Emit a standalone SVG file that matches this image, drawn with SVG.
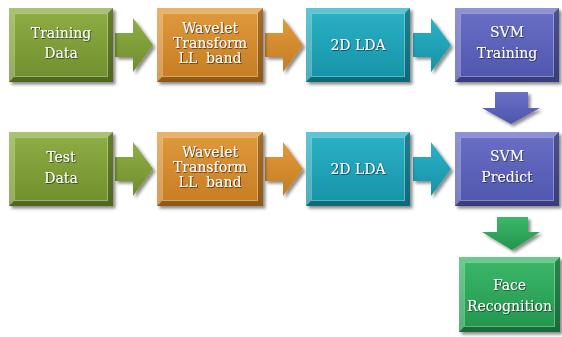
<svg xmlns="http://www.w3.org/2000/svg" width="562" height="337" viewBox="0 0 562 337">
<style>
.lbl{font-family:"DejaVu Serif","Liberation Serif",serif;font-size:14px;fill:#fff;text-anchor:middle;filter:url(#ts)}
.hi{fill:#fff;opacity:.25}
.lo{fill:#000;opacity:.28}
.edge{fill:none;stroke:#fff;stroke-opacity:.3;stroke-width:1}
</style>
<defs>
<filter id="sh" x="-10%" y="-10%" width="130%" height="130%"><feDropShadow dx="2.5" dy="2.5" stdDeviation="1.5" flood-color="#000" flood-opacity=".45"/></filter>
<filter id="ts" x="-10%" y="-20%" width="130%" height="150%"><feDropShadow dx="0.8" dy="0.8" stdDeviation="0.6" flood-color="#222" flood-opacity=".8"/></filter>
<linearGradient id="gG" x1="0" y1="0" x2="0" y2="1"><stop offset="0" stop-color="#8fae45"/><stop offset="1" stop-color="#6f8e2c"/></linearGradient>
<linearGradient id="gO" x1="0" y1="0" x2="0" y2="1"><stop offset="0" stop-color="#e09a3c"/><stop offset="1" stop-color="#c67c22"/></linearGradient>
<linearGradient id="gT" x1="0" y1="0" x2="0" y2="1"><stop offset="0" stop-color="#2cb2c6"/><stop offset="1" stop-color="#1692a6"/></linearGradient>
<linearGradient id="gP" x1="0" y1="0" x2="0" y2="1"><stop offset="0" stop-color="#6a70c6"/><stop offset="1" stop-color="#4e55ac"/></linearGradient>
<linearGradient id="gF" x1="0" y1="0" x2="0" y2="1"><stop offset="0" stop-color="#3cb86a"/><stop offset="1" stop-color="#22954c"/></linearGradient>
</defs>
<rect width="562" height="337" fill="#fff"/>

<g id="connectors" filter="url(#sh)">
<path d="M115,33 H133 V18 L153,45 L133,72 V57 H115 Z" fill="url(#gG)"/>
<path d="M265,33 H283 V18 L303,45 L283,72 V57 H265 Z" fill="url(#gO)"/>
<path d="M413,33 H431 V18 L451,45 L431,72 V57 H413 Z" fill="url(#gT)"/>
<path d="M115,157 H133 V142 L153,169 L133,196 V181 H115 Z" fill="url(#gG)"/>
<path d="M265,157 H283 V142 L303,169 L283,196 V181 H265 Z" fill="url(#gO)"/>
<path d="M413,157 H431 V142 L451,169 L431,196 V181 H413 Z" fill="url(#gT)"/>
<path d="M495,92 H528 V108 H540 L511,124 L482,108 H495 Z" fill="url(#gP)"/>
<path d="M497,217 H528 V232 H540 L512,250 L482,232 H497 Z" fill="url(#gF)"/>
</g>

<g id="training-data">
<rect x="9" y="8" width="104" height="74" fill="url(#gG)" filter="url(#sh)"/>
<path class="hi" d="M9,8 H113 L108,13 H14 Z M9,8 L14,13 V77 L9,82 Z"/>
<path class="lo" d="M9,82 L14,77 H108 L113,82 Z M113,8 V82 L108,77 V13 Z"/>
<rect class="edge" x="14.5" y="13.5" width="93" height="63"/>
<text class="lbl" x="61" y="38">Training</text>
<text class="lbl" x="61" y="58">Data</text>
</g>

<g id="wavelet-1">
<rect x="157" y="8" width="106" height="74" fill="url(#gO)" filter="url(#sh)"/>
<path class="hi" d="M157,8 H263 L258,13 H162 Z M157,8 L162,13 V77 L157,82 Z"/>
<path class="lo" d="M157,82 L162,77 H258 L263,82 Z M263,8 V82 L258,77 V13 Z"/>
<rect class="edge" x="162.5" y="13.5" width="95" height="63"/>
<text class="lbl" x="210" y="33">Wavelet</text>
<text class="lbl" x="210" y="48">Transform</text>
<text class="lbl" x="210" y="63" xml:space="preserve">LL  band</text>
</g>

<g id="lda-1">
<rect x="306" y="8" width="104" height="74" fill="url(#gT)" filter="url(#sh)"/>
<path class="hi" d="M306,8 H410 L405,13 H311 Z M306,8 L311,13 V77 L306,82 Z"/>
<path class="lo" d="M306,82 L311,77 H405 L410,82 Z M410,8 V82 L405,77 V13 Z"/>
<rect class="edge" x="311.5" y="13.5" width="93" height="63"/>
<text class="lbl" x="358" y="50">2D LDA</text>
</g>

<g id="svm-training">
<rect x="455" y="8" width="104" height="74" fill="url(#gP)" filter="url(#sh)"/>
<path class="hi" d="M455,8 H559 L554,13 H460 Z M455,8 L460,13 V77 L455,82 Z"/>
<path class="lo" d="M455,82 L460,77 H554 L559,82 Z M559,8 V82 L554,77 V13 Z"/>
<rect class="edge" x="460.5" y="13.5" width="93" height="63"/>
<text class="lbl" x="507" y="37">SVM</text>
<text class="lbl" x="507" y="58">Training</text>
</g>

<g id="test-data">
<rect x="9" y="132" width="104" height="74" fill="url(#gG)" filter="url(#sh)"/>
<path class="hi" d="M9,132 H113 L108,137 H14 Z M9,132 L14,137 V201 L9,206 Z"/>
<path class="lo" d="M9,206 L14,201 H108 L113,206 Z M113,132 V206 L108,201 V137 Z"/>
<rect class="edge" x="14.5" y="137.5" width="93" height="63"/>
<text class="lbl" x="61" y="162">Test</text>
<text class="lbl" x="61" y="183">Data</text>
</g>

<g id="wavelet-2">
<rect x="157" y="132" width="106" height="74" fill="url(#gO)" filter="url(#sh)"/>
<path class="hi" d="M157,132 H263 L258,137 H162 Z M157,132 L162,137 V201 L157,206 Z"/>
<path class="lo" d="M157,206 L162,201 H258 L263,206 Z M263,132 V206 L258,201 V137 Z"/>
<rect class="edge" x="162.5" y="137.5" width="95" height="63"/>
<text class="lbl" x="210" y="157">Wavelet</text>
<text class="lbl" x="210" y="172">Transform</text>
<text class="lbl" x="210" y="187" xml:space="preserve">LL  band</text>
</g>

<g id="lda-2">
<rect x="306" y="132" width="104" height="74" fill="url(#gT)" filter="url(#sh)"/>
<path class="hi" d="M306,132 H410 L405,137 H311 Z M306,132 L311,137 V201 L306,206 Z"/>
<path class="lo" d="M306,206 L311,201 H405 L410,206 Z M410,132 V206 L405,201 V137 Z"/>
<rect class="edge" x="311.5" y="137.5" width="93" height="63"/>
<text class="lbl" x="358" y="174">2D LDA</text>
</g>

<g id="svm-predict">
<rect x="455" y="132" width="104" height="74" fill="url(#gP)" filter="url(#sh)"/>
<path class="hi" d="M455,132 H559 L554,137 H460 Z M455,132 L460,137 V201 L455,206 Z"/>
<path class="lo" d="M455,206 L460,201 H554 L559,206 Z M559,132 V206 L554,201 V137 Z"/>
<rect class="edge" x="460.5" y="137.5" width="93" height="63"/>
<text class="lbl" x="507" y="161">SVM</text>
<text class="lbl" x="507" y="182">Predict</text>
</g>

<g id="face-recognition">
<rect x="459" y="257" width="101" height="75" fill="url(#gF)" filter="url(#sh)"/>
<path class="hi" d="M459,257 H560 L555,262 H464 Z M459,257 L464,262 V327 L459,332 Z"/>
<path class="lo" d="M459,332 L464,327 H555 L560,332 Z M560,257 V332 L555,327 V262 Z"/>
<rect class="edge" x="464.5" y="262.5" width="90" height="64"/>
<text class="lbl" x="509.5" y="290">Face</text>
<text class="lbl" x="509.5" y="311">Recognition</text>
</g>
</svg>
